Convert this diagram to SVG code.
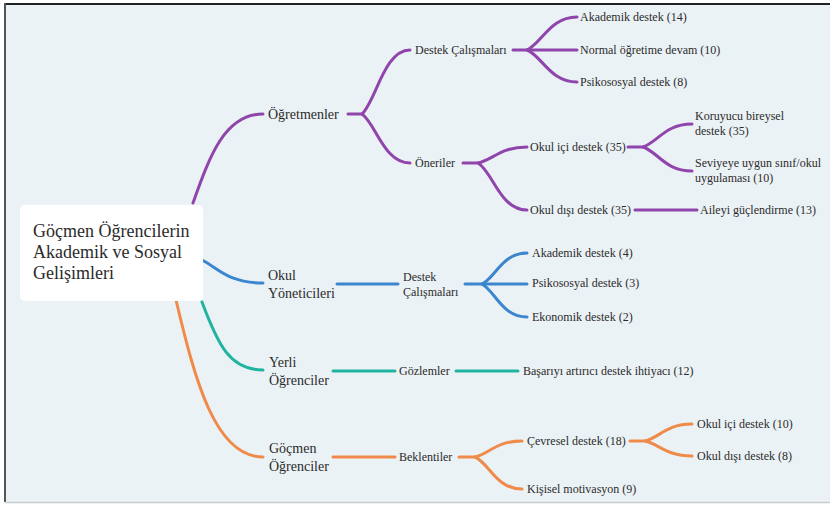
<svg xmlns="http://www.w3.org/2000/svg" width="830" height="505" viewBox="0 0 830 505">
<style>
text{font-family:"Liberation Serif","Times New Roman",serif;fill:#2b2b2b}
.t1{font-size:14px}
.t2{font-size:12px}
.root{font-size:18px}
.c{fill:none;stroke-width:3;stroke-linecap:round}
.p{stroke:#8f45ab}
.b{stroke:#3b86cf}
.g{stroke:#20b3a0}
.o{stroke:#f08a4a}
</style>
<rect x="0" y="0" width="830" height="505" fill="#ffffff"/>
<rect x="5" y="4" width="825" height="498" fill="#ebf2f5"/>
<line x1="4" y1="4" x2="830" y2="4" stroke="#222" stroke-width="2"/>
<line x1="5" y1="3" x2="5" y2="502" stroke="#555" stroke-width="2"/>
<line x1="5" y1="502.5" x2="830" y2="502.5" stroke="#c8cdd0" stroke-width="1.5"/>

<g id="connectors">
  <!-- purple -->
  <path class="c p" d="M193,203 C210,155 225,114 263,114"/>
  <path class="c p" d="M348,114 L362,114 C376,101 384,50 410,50"/>
  <path class="c p" d="M362,114 C376,124 384,163 410,163"/>
  <path class="c p" d="M513,50 L527,50 C542,43 550,17 577,17"/>
  <path class="c p" d="M527,50 L577,50"/>
  <path class="c p" d="M527,50 C542,56 550,82 577,82"/>
  <path class="c p" d="M463,163 L478,163 C493,160 500,147 527,147"/>
  <path class="c p" d="M478,163 C493,172 500,210 527,210"/>
  <path class="c p" d="M628,147 L643,147 C658,142 665,124 692,124"/>
  <path class="c p" d="M643,147 C658,152 665,171 692,171"/>
  <path class="c p" d="M635,210 L697,210"/>
  <!-- blue -->
  <path class="c b" d="M202,260 C218,268 228,283 263,283"/>
  <path class="c b" d="M337,284 L398,284"/>
  <path class="c b" d="M465,284 L482,284 C495,278 502,253 527,253"/>
  <path class="c b" d="M482,284 L527,284"/>
  <path class="c b" d="M482,284 C495,291 502,317 527,317"/>
  <!-- teal -->
  <path class="c g" d="M202,302 C218,345 230,370 263,370"/>
  <path class="c g" d="M333,371 L395,371"/>
  <path class="c g" d="M456,371 L518,371"/>
  <!-- orange -->
  <path class="c o" d="M176,300 C195,380 215,457 263,457"/>
  <path class="c o" d="M333,457 L395,457"/>
  <path class="c o" d="M459,457 L475,457 C489,454 496,441 522,441"/>
  <path class="c o" d="M475,457 C489,463 496,489 522,489"/>
  <path class="c o" d="M630,441 L645,441 C659,438 666,424 692,424"/>
  <path class="c o" d="M645,441 C659,444 666,456 692,456"/>
</g>

<g id="root">
  <rect x="20" y="205" width="183" height="96" rx="5" fill="#ffffff"/>
  <text class="root" x="33" y="237">Göçmen Öğrencilerin</text>
  <text class="root" x="33" y="258">Akademik ve Sosyal</text>
  <text class="root" x="33" y="279">Gelişimleri</text>
</g>

<g id="ogretmenler"><text class="t1" x="268" y="119">Öğretmenler</text></g>
<g id="destek-calismalari-1"><text class="t2" x="415" y="54">Destek Çalışmaları</text></g>
<g id="akademik-14"><text class="t2" x="580" y="21">Akademik destek (14)</text></g>
<g id="normal-10"><text class="t2" x="580" y="54">Normal öğretime devam (10)</text></g>
<g id="psikososyal-8"><text class="t2" x="580" y="86">Psikososyal destek (8)</text></g>
<g id="oneriler"><text class="t2" x="415" y="167">Öneriler</text></g>
<g id="okul-ici-35"><text class="t2" x="530" y="151">Okul içi destek (35)</text></g>
<g id="okul-disi-35"><text class="t2" x="530" y="214">Okul dışı destek (35)</text></g>
<g id="koruyucu"><text class="t2" x="695" y="120">Koruyucu bireysel</text><text class="t2" x="695" y="135">destek (35)</text></g>
<g id="seviyeye"><text class="t2" x="695" y="167">Seviyeye uygun sınıf/okul</text><text class="t2" x="695" y="182">uygulaması (10)</text></g>
<g id="aileyi"><text class="t2" x="700" y="214">Aileyi güçlendirme (13)</text></g>

<g id="okul-yoneticileri"><text class="t1" x="268" y="280">Okul</text><text class="t1" x="268" y="298">Yöneticileri</text></g>
<g id="destek-calismalari-2"><text class="t2" x="403" y="281">Destek</text><text class="t2" x="403" y="296">Çalışmaları</text></g>
<g id="akademik-4"><text class="t2" x="532" y="257">Akademik destek (4)</text></g>
<g id="psikososyal-3"><text class="t2" x="532" y="287">Psikososyal destek (3)</text></g>
<g id="ekonomik-2"><text class="t2" x="532" y="321">Ekonomik destek (2)</text></g>

<g id="yerli"><text class="t1" x="269" y="367">Yerli</text><text class="t1" x="269" y="385">Öğrenciler</text></g>
<g id="gozlemler"><text class="t2" x="399" y="375">Gözlemler</text></g>
<g id="basariyi"><text class="t2" x="523" y="375">Başarıyı artırıcı destek ihtiyacı (12)</text></g>

<g id="gocmen"><text class="t1" x="269" y="453">Göçmen</text><text class="t1" x="269" y="471">Öğrenciler</text></g>
<g id="beklentiler"><text class="t2" x="399" y="461">Beklentiler</text></g>
<g id="cevresel"><text class="t2" x="527" y="445">Çevresel destek (18)</text></g>
<g id="kisisel"><text class="t2" x="527" y="493">Kişisel motivasyon (9)</text></g>
<g id="okul-ici-10"><text class="t2" x="697" y="428">Okul içi destek (10)</text></g>
<g id="okul-disi-8"><text class="t2" x="697" y="460">Okul dışı destek (8)</text></g>
</svg>
